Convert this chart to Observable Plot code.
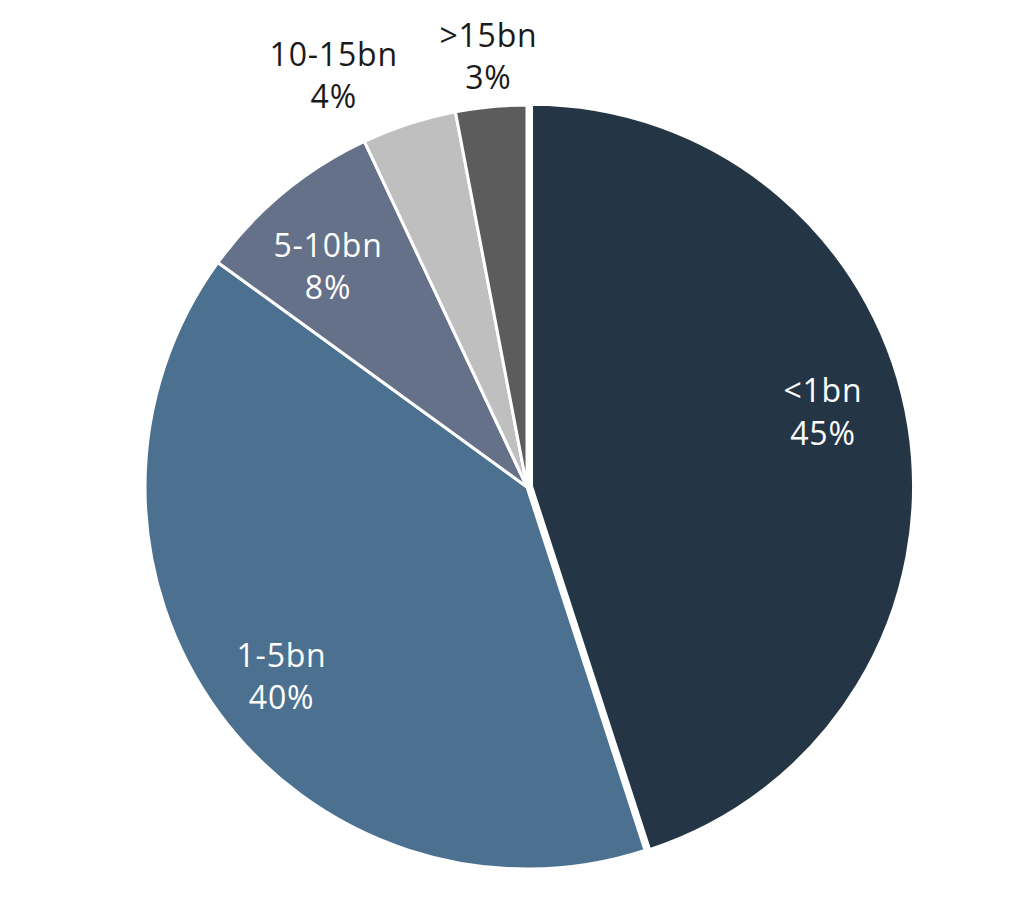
<!DOCTYPE html>
<html>
<head>
<meta charset="utf-8">
<script src="https://cdn.jsdelivr.net/npm/d3@7"></script>
<script src="https://cdn.jsdelivr.net/npm/@observablehq/plot@0.6"></script>
<style>
  html, body { margin: 0; padding: 0; background: #fff; }
  #chart { width: 1024px; height: 908px; }
</style>
</head>
<body>
<div id="chart"></div>
<script>
// ---- data ----
const categories = ["<1bn", "1-5bn", "5-10bn", "10-15bn", ">15bn"];
const shares = [45, 40, 8, 4, 3];
const shareLabels = ["45%", "40%", "8%", "4%", "3%"];

// ---- styles / layout ----
const sliceColors = ["#243645", "#4c7190", "#657189", "#bfbfbf", "#5c5c5c"];
const labelInk = ["#ffffff", "#ffffff", "#ffffff", "#1a1a1a", "#1a1a1a"];
const labelRadius = [0.797, 0.815, 0.776, 1.187, 1.128];   // in pie radii
const labelAngleShift = [-5, -1.8, -2.7, -7.3, 0.2];       // degrees
const explode = [0.012, 0, 0, 0, 0];                       // in pie radii

const W = 1024, H = 908, CX = 527, CY = 487, R = 382;

const color = Plot.scale({color: {type: "ordinal", domain: categories, range: sliceColors}});

const pie = d3.pie().sort(null).value(d => d.share)(
  categories.map((c, i) => ({category: c, share: shares[i], label: shareLabels[i], i}))
);

const slices = pie.map(p => {
  const i = p.data.i;
  const mid = (p.startAngle + p.endAngle) / 2;
  const la = mid + labelAngleShift[i] * Math.PI / 180;
  return {
    ...p,
    category: p.data.category,
    mid,
    ex: explode[i] * Math.sin(mid),
    ey: explode[i] * Math.cos(mid),
    lx: labelRadius[i] * Math.sin(la),
    ly: labelRadius[i] * Math.cos(la),
    text: p.data.category + "\n" + p.data.label,
    ink: labelInk[i]
  };
});

function pieMark(index, scales) {
  const r = scales.x(1) - scales.x(0);
  const arc = d3.arc().innerRadius(0).outerRadius(r);
  const g = d3.create("svg:g");
  g.selectAll("path")
    .data(slices)
    .join("path")
    .attr("transform", d => `translate(${scales.x(d.ex)},${scales.y(d.ey)})`)
    .attr("d", arc)
    .attr("fill", d => color.apply(d.category))
    .attr("stroke", "#ffffff")
    .attr("stroke-width", 3)
    .attr("stroke-linejoin", "round");
  return g.node();
}

const chart = Plot.plot({
  width: W,
  height: H,
  margin: 0,
  style: {background: "#ffffff", letterSpacing: "0.8px"},
  x: {domain: [-CX / R, (W - CX) / R], range: [0, W], axis: null},
  y: {domain: [-(H - CY) / R, CY / R], range: [H, 0], axis: null},
  marks: [
    pieMark,
    Plot.text(slices, {
      x: "lx",
      y: "ly",
      text: "text",
      fill: d => d.ink,
      fontSize: 32,
      lineHeight: 1.33,
      fontFamily: "Open Sans",
      fontWeight: 400,
      textAnchor: "middle",
      lineAnchor: "middle",
      dy: -4
    })
  ]
});

document.getElementById("chart").appendChild(chart);
</script>
</body>
</html>
